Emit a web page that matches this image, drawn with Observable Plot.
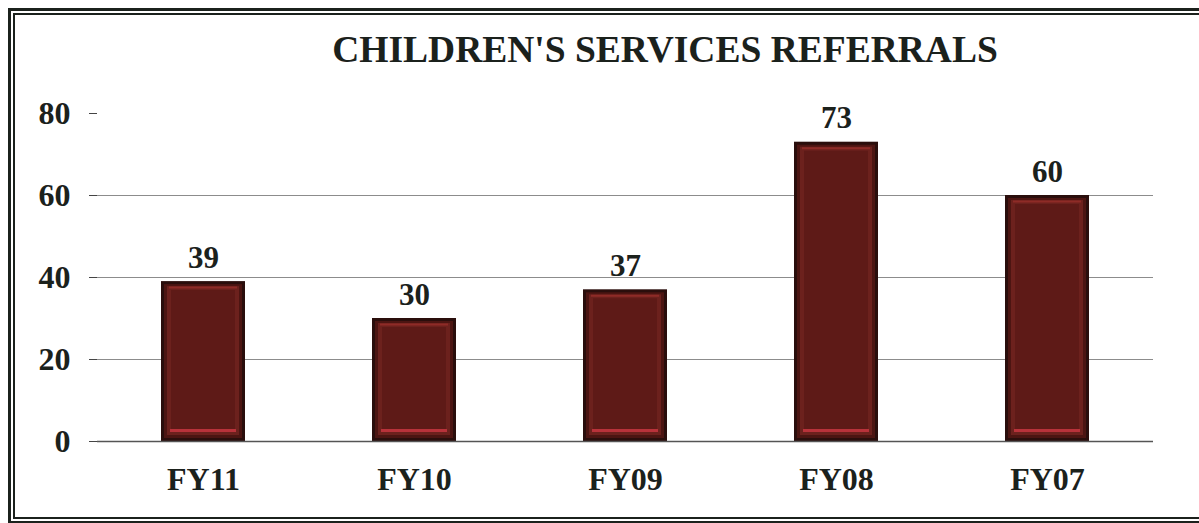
<!DOCTYPE html>
<html>
<head>
<meta charset="utf-8">
<script src="https://cdn.jsdelivr.net/npm/d3@7"></script>
<script src="https://cdn.jsdelivr.net/npm/@observablehq/plot@0.6"></script>
<style>
  html, body { margin: 0; padding: 0; background: #fff; overflow: hidden; }
  #wrap { position: relative; width: 1199px; height: 523px; overflow: hidden; font-family: "Liberation Serif", "Times New Roman", serif; }
  #frameOuter { position: absolute; left: 8px; top: 8px; width: 1210px; height: 516px; box-sizing: border-box; border: 3px solid #1b211c; }
  #frameInner { position: absolute; left: 13px; top: 13px; width: 1200px; height: 506px; box-sizing: border-box; border: 2.5px solid #1b211c; }
  #title { position: absolute; left: 665px; top: 31px; transform: translateX(-50%); font-size: 37.5px; line-height: 37.5px; font-weight: bold; color: #1b211c; white-space: nowrap; }
  #chart { position: absolute; left: 0; top: 90px; }
</style>
</head>
<body>
<div id="wrap">
  <div id="frameOuter"></div>
  <div id="frameInner"></div>
  <div id="title">CHILDREN'S SERVICES REFERRALS</div>
  <div id="chart"></div>
</div>
<script>
const categories = ["FY11", "FY10", "FY09", "FY08", "FY07"];
const referrals = [39, 30, 37, 73, 60];
const yTicks = [0, 20, 40, 60, 80];
const gridTicks = [20, 40, 60];

const data = categories.map((c, i) => ({fy: c, value: referrals[i]}));

const textColor = "#1b211c";
const font = "Liberation Serif, Times New Roman, serif";

const chart = Plot.plot({
  width: 1199,
  height: 433,
  marginLeft: 97,
  marginRight: 46,
  marginTop: 23,
  marginBottom: 82,
  style: {fontFamily: font, fontSize: "32px", fontWeight: "bold", color: textColor, background: "transparent"},
  x: {domain: categories, paddingInner: 0.6, paddingOuter: 0.3, label: null},
  y: {domain: [0, 80], label: null},
  marks: [
    Plot.gridY(gridTicks, {stroke: "#8c8c8c", strokeOpacity: 1, strokeWidth: 1.2}),
    Plot.axisY(yTicks, {tickSize: 8, tickPadding: 19, stroke: "#444", fill: textColor, fontSize: 32, fontWeight: "bold", label: null}),
    Plot.ruleX([0], {frameAnchor: "left", y1: 0, y2: 80, stroke: "#555", strokeWidth: 1.2}),
    Plot.axisX({tickSize: 0, tickPadding: 26, fill: textColor, fontSize: 32, fontWeight: "bold", label: null}),
    Plot.barY(data, {x: "fy", y: "value", fill: "#2a0e0c"}),
    Plot.barY(data, {x: "fy", y: "value", fill: "#4c1512", inset: 3}),
    Plot.barY(data, {x: "fy", y: "value", fill: "#6c211d", insetLeft: 6, insetRight: 6, insetTop: 5, insetBottom: 6}),
    Plot.barY(data, {x: "fy", y: "value", fill: "#5e1a17", insetLeft: 10, insetRight: 10, insetTop: 9, insetBottom: 12}),
    Plot.tickY(data, {x: "fy", y: "value", dy: 6, stroke: "#8e2b27", strokeWidth: 2, insetLeft: 8, insetRight: 8}),
    Plot.tickY(data, {x: "fy", y: () => 0, dy: -11, stroke: "#b8323a", strokeWidth: 3, insetLeft: 9, insetRight: 9}),
    Plot.ruleY([0], {stroke: "#555", strokeWidth: 1.3}),
    Plot.text(data, {x: "fy", y: "value", text: d => String(d.value), lineAnchor: "bottom", dy: -14, fill: textColor, fontSize: 31, fontWeight: "bold"})
  ]
});
document.getElementById("chart").appendChild(chart);
</script>
</body>
</html>
